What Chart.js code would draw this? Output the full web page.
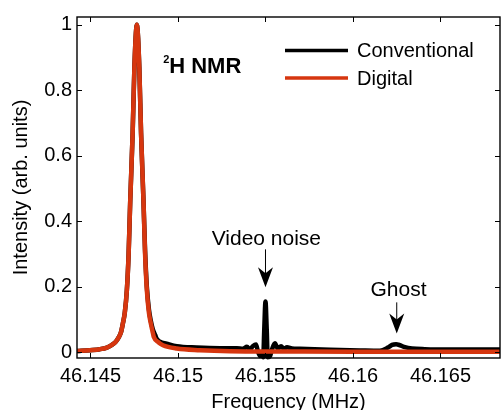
<!DOCTYPE html>
<html>
<head>
<meta charset="utf-8">
<script src="https://cdn.jsdelivr.net/npm/chart.js@4.4.1/dist/chart.umd.min.js"></script>
<style>
  html, body { margin: 0; padding: 0; background: #ffffff; }
  #wrap { width: 501px; height: 410px; position: relative; }
</style>
</head>
<body>
<div id="wrap"><canvas id="nmr"></canvas></div>
<script>
// 2H NMR spectrum: conventional vs digital receiver
const seriesNames = ['Conventional', 'Digital'];

const freqConventional = [
  46.14423, 46.14497, 46.14554, 46.14594, 46.14616, 46.14642, 46.14662, 46.14674,
  46.14685, 46.14696, 46.14708, 46.14718, 46.14727, 46.14741, 46.14751, 46.14765,
  46.14779, 46.14789, 46.14803, 46.14812, 46.14822, 46.14834, 46.14845, 46.14856,
  46.14870, 46.14878, 46.14897, 46.14935, 46.14993, 46.15107, 46.15240, 46.15337,
  46.15371, 46.15394, 46.15411, 46.15429, 46.15446, 46.15457, 46.15469, 46.15480,
  46.15487, 46.15493, 46.15500, 46.15507, 46.15513, 46.15526, 46.15537, 46.15554,
  46.15571, 46.15589, 46.15606, 46.15623, 46.15651, 46.15697, 46.15869, 46.16040,
  46.16154, 46.16200, 46.16223, 46.16246, 46.16269, 46.16297, 46.16337, 46.16411,
  46.16554, 46.16840
];
const intensityConventional = [
  0.003, 0.006, 0.009, 0.014, 0.020, 0.030, 0.046, 0.060,
  0.087, 0.120, 0.190, 0.300, 0.460, 0.670, 0.870, 1.000,
  0.870, 0.670, 0.460, 0.310, 0.200, 0.130, 0.095, 0.070,
  0.052, 0.041, 0.032, 0.026, 0.018, 0.014, 0.012, 0.012,
  0.010, 0.016, 0.008, 0.019, 0.023, 0.002, -0.012, -0.004,
  -0.016, 0.070, 0.155, 0.070, -0.016, -0.012, 0.008, 0.027,
  0.010, 0.018, 0.010, 0.015, 0.011, 0.010, 0.007, 0.005,
  0.004, 0.014, 0.022, 0.024, 0.021, 0.015, 0.011, 0.009,
  0.008, 0.008
];

const freqDigital = [
  46.14423, 46.14497, 46.14554, 46.14594, 46.14616, 46.14642, 46.14662, 46.14674,
  46.14685, 46.14696, 46.14708, 46.14718, 46.14727, 46.14741, 46.14751, 46.14765,
  46.14779, 46.14789, 46.14803, 46.14812, 46.14822, 46.14834, 46.14845, 46.14856,
  46.14862, 46.14888, 46.14914, 46.14993, 46.15126, 46.15297, 46.15600, 46.16000,
  46.16500, 46.16840
];
const intensityDigital = [
  0.003, 0.006, 0.009, 0.014, 0.020, 0.030, 0.046, 0.060,
  0.087, 0.120, 0.190, 0.300, 0.460, 0.670, 0.870, 1.000,
  0.870, 0.670, 0.460, 0.300, 0.190, 0.120, 0.087, 0.060,
  0.046, 0.030, 0.021, 0.011, 0.006, 0.003, 0.002, 0.001,
  0.001, 0.001
];

const xTickValues = [46.145, 46.15, 46.155, 46.16, 46.165];
const xTickLabels = ['46.145', '46.15', '46.155', '46.16', '46.165'];
const yTickValues = [0, 0.2, 0.4, 0.6, 0.8, 1];
const yTickLabels = ['0', '0.2', '0.4', '0.6', '0.8', '1'];

const FONT = '"Liberation Sans", Arial, Helvetica, sans-serif';
const COLORS = ['#000000', '#d6360f'];

const toPoints = (xs, ys) => xs.map((x, i) => ({ x: x, y: ys[i] }));

// Boxed axes with inward ticks, in-plot legend and arrow annotations
const framePlugin = {
  id: 'frame',
  afterDraw(chart) {
    const { ctx, chartArea: a, scales: { x, y } } = chart;
    ctx.save();

    // box
    ctx.strokeStyle = '#000';
    ctx.lineWidth = 1.4;
    ctx.strokeRect(a.left, a.top, a.right - a.left, a.bottom - a.top);

    // inward tick marks on all four sides
    ctx.lineWidth = 1;
    const tl = 5;
    ctx.beginPath();
    xTickValues.forEach(v => {
      const px = Math.round(x.getPixelForValue(v)) + 0.5;
      ctx.moveTo(px, a.bottom); ctx.lineTo(px, a.bottom - tl);
      ctx.moveTo(px, a.top); ctx.lineTo(px, a.top + tl);
    });
    yTickValues.forEach(v => {
      const py = Math.round(y.getPixelForValue(v)) + 0.5;
      ctx.moveTo(a.left, py); ctx.lineTo(a.left + tl, py);
      ctx.moveTo(a.right, py); ctx.lineTo(a.right - tl, py);
    });
    ctx.stroke();

    // legend
    const lx0 = a.left + 208, lx1 = a.left + 271, tx = a.left + 280;
    const rows = [a.top + 33.5, a.top + 61];
    ctx.font = '20px ' + FONT;
    ctx.textBaseline = 'middle';
    ctx.textAlign = 'left';
    chart.data.datasets.forEach((ds, i) => {
      ctx.strokeStyle = ds.borderColor;
      ctx.lineWidth = 3.5;
      ctx.beginPath();
      ctx.moveTo(lx0, rows[i]); ctx.lineTo(lx1, rows[i]);
      ctx.stroke();
      ctx.fillStyle = '#000';
      ctx.fillText(ds.label, tx, rows[i] + 1);
    });

    // 2H NMR label
    const hx = x.getPixelForValue(46.14950), hy = y.getPixelForValue(0.853);
    ctx.textBaseline = 'alphabetic';
    ctx.font = 'bold 22px ' + FONT;
    ctx.fillText('H NMR', hx, hy);
    ctx.font = 'bold 11px ' + FONT;
    ctx.fillText('2', hx - 6, hy - 10);

    // arrow annotations
    const arrow = (fx, yTail, yTip) => {
      const ax = x.getPixelForValue(fx);
      const t0 = y.getPixelForValue(yTail), t1 = y.getPixelForValue(yTip);
      ctx.strokeStyle = '#000';
      ctx.lineWidth = 1;
      ctx.beginPath();
      ctx.moveTo(ax, t0); ctx.lineTo(ax, t1 - 10);
      ctx.stroke();
      ctx.fillStyle = '#000';
      ctx.beginPath();
      ctx.moveTo(ax, t1);
      ctx.lineTo(ax - 7.5, t1 - 20);
      ctx.lineTo(ax, t1 - 14);
      ctx.lineTo(ax + 7.5, t1 - 20);
      ctx.closePath();
      ctx.fill();
    };
    ctx.font = '21px ' + FONT;
    ctx.textAlign = 'center';
    ctx.fillStyle = '#000';
    ctx.fillText('Video noise', x.getPixelForValue(46.15505), y.getPixelForValue(0.327));
    arrow(46.15500, 0.314, 0.198);
    ctx.fillText('Ghost', x.getPixelForValue(46.16260), y.getPixelForValue(0.170));
    arrow(46.16250, 0.152, 0.057);

    ctx.restore();
  }
};

new Chart(document.getElementById('nmr'), {
  type: 'line',
  data: {
    datasets: [
      {
        label: seriesNames[0],
        data: toPoints(freqConventional, intensityConventional),
        borderColor: COLORS[0],
        borderWidth: 4.5,
        pointRadius: 0,
        cubicInterpolationMode: 'monotone',
        borderJoinStyle: 'round',
        order: 2,
        clip: { left: 0, top: 0, right: 0, bottom: 3 }
      },
      {
        label: seriesNames[1],
        data: toPoints(freqDigital, intensityDigital),
        borderColor: COLORS[1],
        borderWidth: 4.5,
        pointRadius: 0,
        cubicInterpolationMode: 'monotone',
        borderJoinStyle: 'round',
        order: 1,
        clip: { left: 0, top: 0, right: 0, bottom: 3 }
      }
    ]
  },
  options: {
    responsive: true,
    maintainAspectRatio: false,
    devicePixelRatio: 1,
    animation: false,
    events: [],
    layout: { padding: { top: 14, right: 1, bottom: 0, left: 0 } },
    plugins: { legend: { display: false }, tooltip: { enabled: false } },
    scales: {
      x: {
        type: 'linear',
        min: 46.14423,
        max: 46.1684,
        afterBuildTicks: s => { s.ticks = xTickValues.map(v => ({ value: v })); },
        afterFit: s => { s.height = 52; },
        grid: { display: false, drawTicks: false },
        border: { display: false },
        ticks: {
          autoSkip: false,
          maxRotation: 0,
          padding: 6.5,
          color: '#000',
          font: { family: FONT, size: 20 },
          callback: v => xTickLabels[xTickValues.indexOf(v)]
        },
        title: {
          display: true,
          text: 'Frequency (MHz)',
          color: '#000',
          font: { family: FONT, size: 20, lineHeight: 0.8 },
          padding: 0
        }
      },
      y: {
        type: 'linear',
        min: -0.018,
        max: 1.024,
        afterBuildTicks: s => { s.ticks = yTickValues.map(v => ({ value: v })); },
        afterFit: s => { s.width = 77; },
        grid: { display: false, drawTicks: false },
        border: { display: false },
        ticks: {
          padding: 5,
          color: '#000',
          font: { family: FONT, size: 20 },
          callback: v => yTickLabels[yTickValues.indexOf(v)]
        },
        title: {
          display: true,
          text: 'Intensity (arb. units)',
          color: '#000',
          font: { family: FONT, size: 20 },
          padding: { top: 9, bottom: 0 }
        }
      }
    }
  },
  plugins: [framePlugin]
});
</script>
</body>
</html>
